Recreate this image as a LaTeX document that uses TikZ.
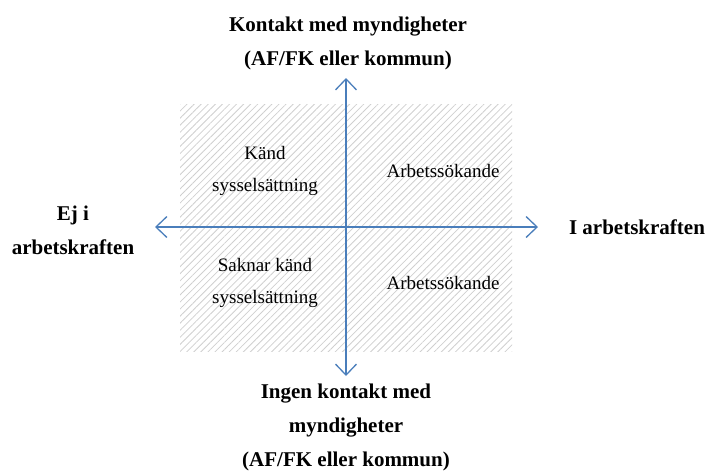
\documentclass[tikz,border=0pt]{standalone}
\usepackage{fontspec}
\setmainfont{Liberation Serif}
\usetikzlibrary{arrows.meta,patterns.meta}
\definecolor{axisblue}{RGB}{74,126,187}
\begin{document}
\begin{tikzpicture}[x=1pt,y=-1pt,
  lbl/.style={font=\fontsize{21}{34}\selectfont\bfseries, align=center, inner sep=0pt},
  cell/.style={font=\fontsize{19}{32}\selectfont, align=center, inner sep=0pt},
  axis/.style={draw=axisblue, line width=1.3pt, -{Straight Barb[length=11pt,width=21pt,line width=1.3pt]}}]
\useasboundingbox (0,0) rectangle (710,475);
\fill[pattern={Lines[angle=45,distance=5pt,line width=0.8pt]}, pattern color=gray!38] (180,104) rectangle (512,351);
\coordinate (c) at (346,227);
\coordinate (top) at (346,78);
\coordinate (bot) at (346,376);
\coordinate (lft) at (155,227);
\coordinate (rgt) at (538,227);
\draw[axis] (c) -- (top);
\draw[axis] (c) -- (bot);
\draw[axis] (c) -- (lft);
\draw[axis] (c) -- (rgt);
\node[lbl] (ntop) at (348,43) {Kontakt med myndigheter\\(AF/FK eller kommun)};
\node[lbl] (nbot) at (346,427) {Ingen kontakt med\\myndigheter\\(AF/FK eller kommun)};
\node[lbl] (nleft) at (73,230) {Ej i\\arbetskraften};
\node[lbl] (nright) at (637,227) {I arbetskraften};
\node[cell] (q1) at (265,171) {Känd\\sysselsättning};
\node[cell] (q2) at (443,171) {Arbetssökande};
\node[cell] (q3) at (265,283) {Saknar känd\\sysselsättning};
\node[cell] (q4) at (443,283) {Arbetssökande};
\end{tikzpicture}
\end{document}
